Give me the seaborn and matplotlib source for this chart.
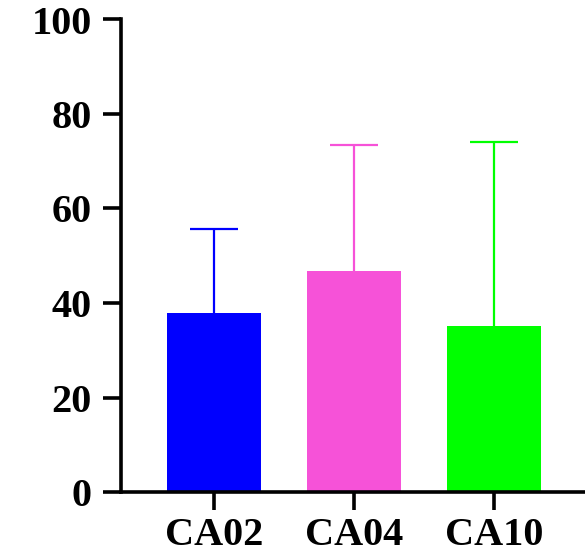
import matplotlib
matplotlib.use("Agg")
import matplotlib.pyplot as plt
import seaborn as sns
import pandas as pd

categories = ["CA02", "CA04", "CA10"]
means = [37.8, 46.7, 35.1]
errors = [17.9, 26.7, 38.9]
colors = ["#0000FF", "#F652D8", "#00FF00"]
yticks = [0, 20, 40, 60, 80, 100]

df = pd.DataFrame({"cat": categories, "val": means})

sns.set_style("white")
plt.rcParams["font.family"] = ["Liberation Serif", "DejaVu Serif"]
plt.rcParams["font.weight"] = "bold"
plt.rcParams["text.color"] = "black"
plt.rcParams["xtick.color"] = "black"
plt.rcParams["ytick.color"] = "black"

fig = plt.figure(figsize=(5.85, 5.54), dpi=100)
ax = fig.add_axes([121 / 585, 62 / 554, 1 - 121 / 585, (492 - 19.5) / 554])

sns.barplot(data=df, x="cat", y="val", hue="cat", palette=colors,
            width=0.67, errorbar=None, legend=False, ax=ax, saturation=1,
            linewidth=0)

for i, (m, e, c) in enumerate(zip(means, errors, colors)):
    _, caps, _ = ax.errorbar(i, m, yerr=[[0], [e]], fmt="none", ecolor=c,
                             elinewidth=1.6, capsize=17, capthick=1.6, zorder=3)
    caps[0].set_visible(False)

ax.set_xlim(-0.664, 2.65)
ax.set_ylim(0, 100)
ax.set_yticks(yticks)
ax.set_yticklabels([str(t) for t in yticks])
ax.set_xlabel("")
ax.set_ylabel("")

for s in ["top", "right"]:
    ax.spines[s].set_visible(False)
for s in ["left", "bottom"]:
    ax.spines[s].set_linewidth(2.6)
    ax.spines[s].set_color("black")

ax.tick_params(axis="both", which="major", length=13, width=2.6, color="black",
               labelcolor="black", labelsize=29, direction="out")
ax.tick_params(axis="y", left=True, pad=8)
ax.tick_params(axis="x", bottom=True, pad=5)
for lbl in ax.get_xticklabels() + ax.get_yticklabels():
    lbl.set_fontweight("bold")

fig.savefig("out.png", dpi=100)
